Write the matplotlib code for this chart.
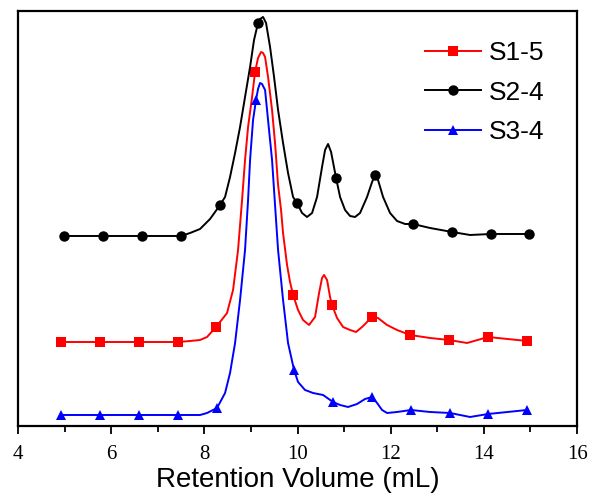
import matplotlib
matplotlib.use("Agg")
import matplotlib.pyplot as plt

# ---- data (retention volume in mL, detector signal in a.u.) ----
s2_x = [4.988, 5.825, 6.662, 7.499, 7.693, 7.907, 8.122, 8.337, 8.444, 8.551, 8.659, 8.766,
        8.873, 8.981, 9.066, 9.152, 9.195, 9.260, 9.324, 9.410, 9.496, 9.582, 9.689, 9.796,
        9.904, 9.990, 10.097, 10.204, 10.312, 10.419, 10.526, 10.591, 10.655, 10.720,
        10.827, 10.913, 11.020, 11.127, 11.235, 11.342, 11.492, 11.600, 11.664, 11.728,
        11.836, 11.986, 12.136, 12.308, 12.480, 12.845, 13.317, 13.704, 14.154, 14.970]
s2_y = [190, 190, 190, 190, 193, 197, 207, 221, 229, 249, 273, 299,
        329, 359, 386, 403, 407, 409, 403, 379, 349, 316, 283, 253,
        229, 223, 213, 209, 213, 229, 259, 276, 282, 274,
        248, 229, 216, 210, 209, 213, 229, 244, 251, 246,
        229, 213, 205, 202, 202, 198, 194, 191, 192, 192]
s2_marks = [4.988, 5.825, 6.662, 7.499, 8.337, 9.152, 9.990, 10.827, 11.664, 12.480,
            13.317, 14.154, 14.970]

s1_x = [4.923, 5.760, 6.598, 7.435, 7.693, 7.907, 8.057, 8.251, 8.487, 8.616, 8.723, 8.809,
        8.873, 8.938, 9.024, 9.088, 9.152, 9.217, 9.260, 9.303, 9.367, 9.453, 9.517, 9.582,
        9.646, 9.689, 9.775, 9.839, 9.904, 10.011, 10.118, 10.247, 10.376, 10.462, 10.526,
        10.569, 10.634, 10.698, 10.741, 10.848, 10.977, 11.127, 11.256, 11.385, 11.492,
        11.600, 11.728, 11.922, 12.136, 12.416, 12.845, 13.253, 13.639, 14.090, 14.927]
s1_y = [84, 84, 84, 84, 85, 86, 89, 99, 113, 136, 176, 226,
        266, 299, 329, 354, 368, 374, 373, 369, 349, 316, 283, 241,
        216, 193, 161, 144, 131, 116, 106, 101, 109, 133, 148,
        151, 146, 129, 121, 108, 99, 96, 94, 99, 104,
        109, 108, 101, 96, 91, 88, 86, 83, 89, 85]
s1_marks = [4.923, 5.760, 6.598, 7.435, 8.251, 9.088, 9.904, 10.741, 11.600, 12.416,
            13.253, 14.090, 14.927]

s3_x = [4.923, 5.760, 6.598, 7.435, 7.907, 8.057, 8.272, 8.444, 8.551, 8.659, 8.766, 8.873,
        8.938, 8.981, 9.045, 9.109, 9.152, 9.195, 9.238, 9.303, 9.367, 9.453, 9.517, 9.582,
        9.689, 9.796, 9.925, 10.011, 10.161, 10.333, 10.548, 10.762, 10.913, 11.084,
        11.278, 11.449, 11.600, 11.707, 11.814, 11.922, 12.136, 12.437, 12.845, 13.274,
        13.704, 14.090, 14.927]
s3_y = [11, 11, 11, 11, 11, 13, 18, 33, 53, 83, 126, 176,
        226, 266, 306, 326, 337, 343, 342, 336, 306, 266, 221, 176,
        126, 83, 56, 44, 36, 33, 31, 24, 21, 19,
        22, 27, 29, 23, 16, 13, 14, 16, 14, 13,
        9, 12, 16]
s3_marks = [4.923, 5.760, 6.598, 7.435, 8.272, 9.109, 9.925, 10.762, 11.600, 12.437,
            13.274, 14.090, 14.927]

series = [
    ("S1-5", s1_x, s1_y, s1_marks, "#ff0000", "s", 6.5),
    ("S2-4", s2_x, s2_y, s2_marks, "#000000", "o", 7.5),
    ("S3-4", s3_x, s3_y, s3_marks, "#0000ff", "^", 7.5),
]

x_ticks = [4, 6, 8, 10, 12, 14, 16]

fig = plt.figure(figsize=(5.91, 4.95), dpi=100)
ax = fig.add_axes([0.0305, 0.1394, 0.9459, 0.8384])

for name, xs, ys, marks, col, mk, ms in series:
    idx = [xs.index(m) for m in marks]
    ax.plot(xs, ys, color=col, lw=1.4, marker=mk, markersize=ms,
            markevery=idx, markeredgewidth=0, label=name,
            solid_joinstyle="round")

ax.set_xlim(4, 16)
ax.set_ylim(0, 415)
ax.set_xticks(x_ticks)
ax.set_xticks([5, 7, 9, 11, 13, 15], minor=True)
ax.set_yticks([])
for lab in ax.get_xticklabels():
    lab.set_fontfamily("Liberation Serif")
ax.tick_params(axis="x", which="major", direction="out", length=6, width=1.3,
               labelsize=15, pad=8)
ax.tick_params(axis="x", which="minor", direction="out", length=4, width=1.3)
for sp in ax.spines.values():
    sp.set_linewidth(1.6)

ax.set_xlabel("Retention Volume (mL)", fontsize=20, fontfamily="Liberation Sans",
              labelpad=2)

ax.legend(loc="upper right", bbox_to_anchor=(0.97, 0.965), frameon=False,
          prop={"family": "Liberation Sans", "size": 19},
          handlelength=2.1, handletextpad=0.3, labelspacing=0.58, borderaxespad=0.2)

fig.savefig("out.png", dpi=100)
